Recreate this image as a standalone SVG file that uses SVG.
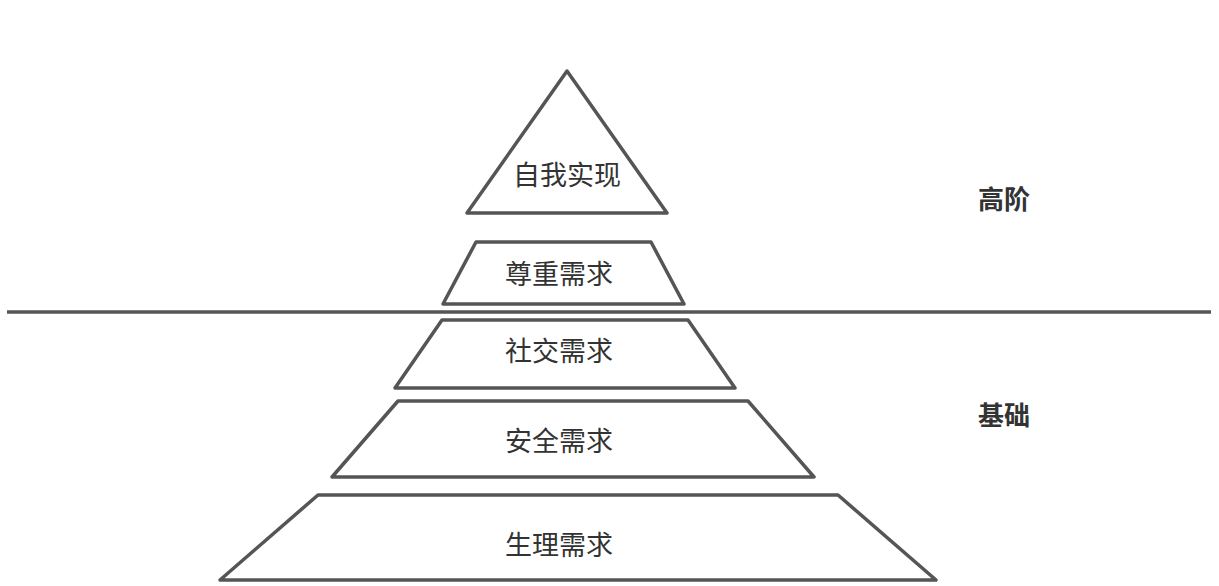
<svg xmlns="http://www.w3.org/2000/svg" width="1219" height="586" viewBox="0 0 1219 586">
<style>
.s{fill:#fff;stroke:#555;stroke-width:3.5;stroke-linejoin:round;stroke-linecap:round}
.t{font-family:"Noto Sans CJK SC",sans-serif;font-size:27px;fill:#333;text-anchor:middle;dominant-baseline:central}
.b{font-family:"Noto Sans CJK SC",sans-serif;font-size:26px;font-weight:bold;fill:#333;text-anchor:middle;dominant-baseline:central}
</style>
<rect width="1219" height="586" fill="#fff"/>
<g id="sep"><line x1="7" y1="312" x2="1211" y2="312" stroke="#555" stroke-width="3.5"/></g>
<g id="n1"><polygon class="s" points="567,71 667,213 467,213"/><text class="t" x="567" y="173">自我实现</text></g>
<g id="n2"><polygon class="s" points="476,242 651,242 684,304 443,304"/><text class="t" x="559" y="272">尊重需求</text></g>
<g id="n3"><polygon class="s" points="442,320 688,320 735,388 395,388"/><text class="t" x="559" y="349">社交需求</text></g>
<g id="n4"><polygon class="s" points="398,401 748,401 814,477 332,477"/><text class="t" x="559" y="439">安全需求</text></g>
<g id="n5"><polygon class="s" points="318,495 838,495 936,580 220,580"/><text class="t" x="559" y="543">生理需求</text></g>
<g id="l1"><text class="b" x="1004" y="197">高阶</text></g>
<g id="l2"><text class="b" x="1004" y="413">基础</text></g>
<g id="connectors"></g>
</svg>
